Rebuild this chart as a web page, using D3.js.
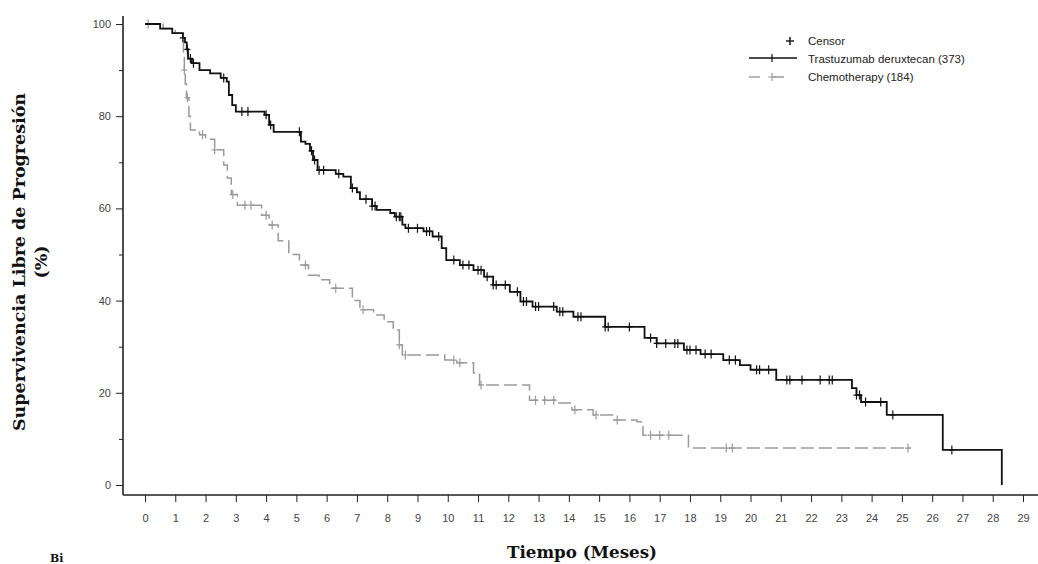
<!DOCTYPE html>
<html>
  <head>
    <meta charset="utf-8">
    <title>Supervivencia Libre de Progresión</title>
    <script src="https://d3js.org/d3.v7.min.js"></script>
    <style>
      body { margin: 0; background: #fff; }
      .tick text { font-family: "Liberation Sans", Arial, sans-serif; font-size: 11px; fill: #444; }
      .tick line { stroke: #222; }
    </style>
  </head>
  <body>
    <script>
      var width = 1038;
      var height = 564;

      // datos (meses, % libre de progresión tras cada escalón)
      var tdxdTime = [0, 0.5, 0.9, 1.25, 1.32, 1.38, 1.42, 1.55, 1.8, 2.15, 2.5, 2.7, 2.77, 2.88, 3.0, 3.95, 4.1, 4.25,
        5.15, 5.3, 5.45, 5.55, 5.7, 6.3, 6.55, 6.8, 7.0, 7.1, 7.5, 7.65, 8.1, 8.25, 8.5, 8.6, 9.2, 9.5, 9.8, 9.95,
        10.4, 10.85, 11.2, 11.5, 12.05, 12.4, 12.8, 13.6, 14.15, 15.2, 16.5, 16.9, 17.8, 18.35, 19.1, 19.65, 20.0,
        20.85, 23.35, 23.5, 23.65, 24.5, 26.35, 28.3];
      var tdxdSurv = [100, 99, 98, 97, 96, 94.5, 92.5, 91.5, 90, 89.3, 88.3, 87.5, 84.6, 82.4, 81, 80.3, 78.1, 76.6,
        74.5, 74, 72.5, 70.5, 68.3, 67.5, 66.9, 64.4, 63.5, 62, 60.5, 59.7, 59, 58.2, 56.5, 55.7, 55, 53.9, 51.4, 48.8,
        47.7, 46.6, 45.2, 43.4, 41.9, 39.8, 38.7, 37.6, 36.5, 34.3, 31.9, 30.7, 29.3, 28.4, 27.1, 26, 25,
        22.8, 21, 19.5, 18, 15.2, 7.6, 0];
      var tdxdCensor = [1.25, 1.4, 1.5, 1.6, 2.6, 3.2, 3.4, 4.0, 4.15, 5.1, 5.5, 5.6, 5.75, 5.9, 6.4, 6.85, 7.3, 7.5,
        7.6, 8.3, 8.4, 8.45, 8.7, 9.0, 9.3, 9.4, 9.7, 10.2, 10.5, 10.7, 11.0, 11.1, 11.3, 11.5, 11.6, 11.9, 12.3,
        12.5, 12.6, 12.9, 13.0, 13.5, 13.7, 13.8, 14.3, 14.4, 15.2, 15.3, 16.0, 16.7, 16.9, 17.2, 17.5, 17.6, 17.9,
        18.0, 18.2, 18.5, 18.7, 19.3, 19.5, 20.2, 20.3, 20.6, 21.2, 21.3, 21.7, 22.3, 22.6, 22.7, 23.5, 23.6, 23.8,
        24.3, 24.7, 26.65];

      var chemoTime = [0, 0.6, 1.0, 1.27, 1.3, 1.33, 1.37, 1.45, 1.5, 1.8, 2.0, 2.3, 2.6, 2.72, 2.85, 3.05, 3.85,
        4.1, 4.4, 4.75, 5.1, 5.4, 5.75, 6.1, 6.85, 7.1, 7.55, 7.9, 8.2, 8.4, 8.5, 9.9, 10.3, 10.85, 11.05, 12.7,
        13.6, 14.1, 14.8, 15.45, 16.25, 16.45, 17.95, 25.3];
      var chemoSurv = [100, 99, 98, 93, 90, 87, 84, 80, 77, 76, 75, 72.7, 69.4, 66.6, 63, 60.7, 58.5,
        56.4, 53, 50, 47.7, 45.5, 44.5, 42.7, 40, 38, 36.9, 35.4, 33.6, 30.4, 28.2, 27.1, 26.5, 24.3, 21.7, 18.4,
        17.8, 16.3, 15.2, 14.1, 13.7, 10.8, 8.0, 8.0];
      var chemoCensor = [0.1, 1.3, 1.4, 1.9, 2.3, 2.9, 3.3, 3.5, 4.0, 4.2, 5.3, 6.3, 7.2, 8.4, 8.6, 10.2, 10.4,
        11.1, 12.9, 13.2, 13.5, 14.2, 14.9, 15.6, 16.7, 17.0, 17.3, 19.2, 19.4, 25.2];

      var xTicks = d3.range(0, 30);
      var yTicks = [0, 20, 40, 60, 80, 100];
      var yMinor = [10, 30, 50, 70, 90];

      var legendLabels = ["Censor", "Trastuzumab deruxtecan (373)", "Chemotherapy (184)"];

      var svg = d3.select("body").append("svg").attr("width", width).attr("height", height);

      var xScale = d3.scaleLinear().domain([0, 29]).range([145, 1023]);
      var yScale = d3.scaleLinear().domain([0, 100]).range([485, 24]);
      var axisX0 = 123, axisY0 = 495;

      // ejes
      svg.append("line").attr("x1", axisX0).attr("x2", width).attr("y1", axisY0).attr("y2", axisY0)
        .attr("stroke", "#222").attr("stroke-width", 1.6);
      svg.append("line").attr("x1", axisX0).attr("x2", axisX0).attr("y1", 16).attr("y2", axisY0)
        .attr("stroke", "#222").attr("stroke-width", 1.6);

      svg.append("g")
        .attr("transform", "translate(0," + axisY0 + ")")
        .call(d3.axisBottom(xScale).tickValues(xTicks).tickSize(7).tickPadding(12).tickFormat(d3.format("d")))
        .call(g => g.select(".domain").remove());

      svg.append("g")
        .attr("transform", "translate(" + axisX0 + ",0)")
        .call(d3.axisLeft(yScale).tickValues(yTicks).tickSize(7).tickPadding(5))
        .call(g => g.select(".domain").remove());

      svg.append("g")
        .attr("transform", "translate(" + axisX0 + ",0)")
        .call(d3.axisLeft(yScale).tickValues(yMinor).tickSize(4).tickFormat(""))
        .call(g => g.select(".domain").remove());

      // curvas
      function stepValue(times, surv, t) {
        var i = d3.bisectRight(times, t) - 1;
        return surv[Math.max(0, i)];
      }

      var line = d3.line()
        .x(d => xScale(d[0]))
        .y(d => yScale(d[1]))
        .curve(d3.curveStepAfter);

      function drawSeries(times, surv, censor, color, width, dash) {
        var pts = times.map((t, i) => [t, surv[i]]);
        svg.append("path")
          .datum(pts)
          .attr("fill", "none")
          .attr("stroke", color)
          .attr("stroke-width", width)
          .attr("stroke-dasharray", dash)
          .attr("d", line);
        svg.append("g")
          .selectAll("path")
          .data(censor)
          .enter()
          .append("path")
          .attr("d", t => {
            var cx = xScale(t), cy = yScale(stepValue(times, surv, t));
            return "M" + cx + "," + (cy - 4.5) + "V" + (cy + 4.5) + "M" + (cx - 3) + "," + cy + "H" + (cx + 3);
          })
          .attr("stroke", color)
          .attr("stroke-width", 1.2);
      }

      drawSeries(chemoTime, chemoSurv, chemoCensor, "#9a9a9a", 1.5, "13,5");
      drawSeries(tdxdTime, tdxdSurv, tdxdCensor, "#111", 1.8, null);

      // leyenda
      var lg = svg.append("g").attr("font-family", "'Liberation Sans', Arial, sans-serif").attr("font-size", 11.5).attr("fill", "#222");
      lg.append("path").attr("d", "M786,41H794M790,37V45").attr("stroke", "#222").attr("stroke-width", 1.6);
      lg.append("line").attr("x1", 749).attr("x2", 797).attr("y1", 58).attr("y2", 58).attr("stroke", "#111").attr("stroke-width", 1.5);
      lg.append("line").attr("x1", 772).attr("x2", 772).attr("y1", 54).attr("y2", 62).attr("stroke", "#111").attr("stroke-width", 1.2);
      lg.append("line").attr("x1", 749).attr("x2", 797).attr("y1", 77).attr("y2", 77).attr("stroke", "#9a9a9a")
        .attr("stroke-width", 1.4).attr("stroke-dasharray", "11,13");
      lg.append("path").attr("d", "M768,77H776M772,73V81").attr("stroke", "#9a9a9a").attr("stroke-width", 1.2);
      lg.selectAll("text").data(legendLabels).enter().append("text")
        .attr("x", 808).attr("y", (d, i) => 45 + i * 18).text(d => d);

      // títulos
      var serif = "'DejaVu Serif', 'Liberation Serif', serif";
      var yt = svg.append("text").attr("transform", "translate(25,262) rotate(-90)")
        .attr("text-anchor", "middle").attr("font-family", serif).attr("font-weight", "bold").attr("font-size", 17.5).attr("fill", "#111");
      yt.append("tspan").attr("x", 0).attr("dy", 0).text("Supervivencia Libre de Progresión");
      yt.append("tspan").attr("x", 0).attr("dy", 22).text("(%)");

      svg.append("text").attr("x", 582).attr("y", 558).attr("text-anchor", "middle")
        .attr("font-family", serif).attr("font-weight", "bold").attr("font-size", 16.7).attr("fill", "#111")
        .text("Tiempo (Meses)");

      svg.append("text").attr("x", 50).attr("y", 562)
        .attr("font-family", serif).attr("font-weight", "bold").attr("font-size", 11).attr("fill", "#111")
        .text("Bi");
    </script>
  </body>
</html>
